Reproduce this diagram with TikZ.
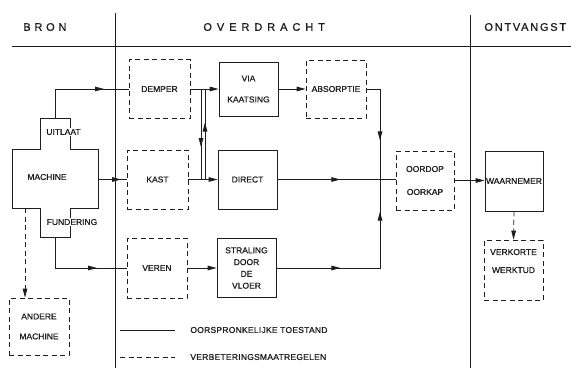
\documentclass[tikz,border=0pt]{standalone}
\usepackage{fontspec}
\setmainfont{Liberation Sans}[FakeBold=0.8]
\usetikzlibrary{arrows.meta,decorations.markings}
\definecolor{ink}{RGB}{30,30,30}
\begin{document}
\begin{tikzpicture}[x=1pt,y=-1pt,line width=0.8pt,
  >={Triangle[length=9pt,width=4.6pt]},
  every node/.style={text=ink},
  box/.style={draw=ink,minimum width=60pt,minimum height=58pt,inner sep=0pt,align=center,
    font=\fontsize{8.5}{10}\selectfont},
  dbox/.style={box,dash pattern=on 5pt off 3.5pt},
  ln/.style={draw=ink},
  dln/.style={draw=ink,dash pattern=on 5pt off 3.5pt},
  midarr/.style={postaction={decorate},decoration={markings,mark=at position #1 with {\arrow{>}}}},
  hd/.style={anchor=west,inner sep=0pt,font=\fontsize{11}{13}\selectfont\addfontfeature{LetterSpace=#1}},
  lbl/.style={font=\fontsize{8.5}{10}\selectfont,inner sep=0.8pt},
  leg/.style={anchor=west,inner sep=0pt,font=\fontsize{8.5}{10}\selectfont\addfontfeature{LetterSpace=3}}]
\fill[white] (0,0) rectangle (571,368);
\useasboundingbox (0,0) rectangle (571,368);

% frame lines
\coordinate (h1) at (12,46); \coordinate (h2) at (571,46);
\coordinate (v1a) at (115,13); \coordinate (v1b) at (115,368);
\coordinate (v2a) at (470,15); \coordinate (v2b) at (470,368);
\draw[ln] (h1) -- (h2);
\draw[ln] (v1a) -- (v1b);
\draw[ln] (v2a) -- (v2b);

% headers
\node[hd=34] (bron) at (23,27) {BRON};
\node[hd=45] (over) at (203,27) {OVERDRACHT};
\node[hd=16] (ontv) at (484,27) {ONTVANGST};

% machine cross
\draw[ln] (40,118) -- (70,118) -- (70,149) -- (98,149) -- (98,208) -- (70,208) -- (70,237)
  -- (40,237) -- (40,208) -- (12,208) -- (12,149) -- (40,149) -- cycle;
\node[lbl] (machine) at (47,177) {MACHINE};
\node[lbl,fill=white] (uitlaat) at (63.5,132) {UITLAAT};
\node[lbl,fill=white] (fund) at (72,222) {FUNDERING};
\coordinate (mtop) at (55,118);
\coordinate (mbot) at (55,237);
\coordinate (mright) at (98,179.5);
\coordinate (mdash) at (25,208);

% boxes
\node[dbox,minimum width=61pt,minimum height=59pt] (demper) at (159.5,89) {DEMPER};
\node[box,minimum width=59pt,minimum height=54pt] (via) at (248.5,89) {VIA\\[11pt]KAATSING};
\node[dbox] (absorp) at (336,89) {ABSORPTIE};
\node[dbox,minimum width=61pt,minimum height=59pt] (kast) at (157.5,179.5) {KAST};
\node[box,minimum width=59pt,minimum height=59pt] (direct) at (247.5,179.5) {DIRECT};
\node[dbox,minimum width=58pt,minimum height=59pt] (oordop) at (425,180.5) {OORDOP\\[13pt]OORKAP};
\node[box,minimum width=58pt,minimum height=60pt] (waar) at (514,181) {WAARNEMER};
\node[dbox,minimum width=59pt,minimum height=60pt] (verk) at (513.5,270) {VERKORTE\\[8pt]WERKTUD\\[8pt]\mbox{}};
\node[dbox,minimum height=60pt] (veren) at (157,268) {VEREN};
\node[box,minimum width=59pt,minimum height=59pt,font=\fontsize{8.5}{11.8}\selectfont] (stral) at (246.5,268) {STRALING\\DOOR\\DE\\VLOER};
\node[dbox,minimum height=57pt] (andere) at (39,326.5) {ANDERE\\[10pt]MACHINE};

% connectors
\draw[ln,midarr=78pt] (mtop) |- (demper.west);
\draw[ln,midarr=23pt] (mright) -- (kast.west);
\draw[ln,midarr=73pt] (mbot) |- (veren.west);
\draw[dln,->] (mdash) -- (mdash |- andere.north);

\draw[ln,->] (demper.east) -- (via.west);
\draw[ln,->] (kast.east) -- (direct.west);
\draw[ln,->] (veren.east) -- (stral.west);
\draw[ln,->] (via.east) -- (absorp.west);

\coordinate (xa1) at (201,89);
\coordinate (xa2) at (201,179.5);
\coordinate (xb1) at (205,179.5);
\coordinate (xb2) at (205,89);
\draw[ln,midarr=58pt] (xa1) -- (xa2);
\draw[ln,midarr=57pt] (xb1) -- (xb2);

\coordinate (junc) at (380,179.5);
\draw[ln,midarr=65pt] (absorp.east) -| (junc);
\draw[ln,postaction={decorate},decoration={markings,
   mark=at position 64pt with {\arrow{>}},
   mark=at position 160pt with {\arrow{>}}}] (stral.east) -| (junc);
\draw[ln,midarr=63pt] (direct.east) -- (oordop.west |- direct.east);
\draw[ln,->] (oordop.east) -- (waar.west |- oordop.east);
\draw[dln,->] (waar.south) -- (verk.north);

% legend
\coordinate (la1) at (120,330); \coordinate (la2) at (175,330);
\coordinate (lb1) at (120,357); \coordinate (lb2) at (175,357);
\draw[ln] (la1) -- (la2);
\draw[dln] (lb1) -- (lb2);
\node[leg] (leg1) at (190,330) {OORSPRONKELIJKE TOESTAND};
\node[leg] (leg2) at (190,357) {VERBETERINGSMAATREGELEN};
\end{tikzpicture}
\end{document}
